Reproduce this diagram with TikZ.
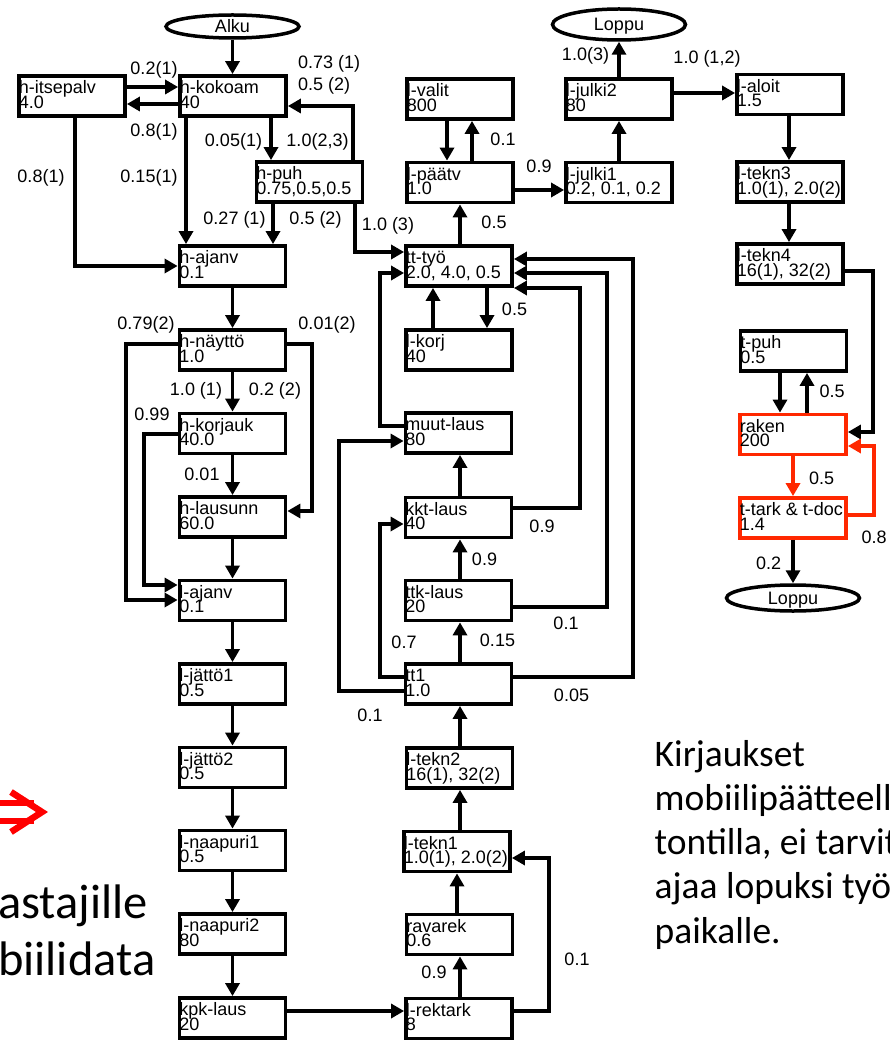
\documentclass[tikz,border=0pt]{standalone}
\usepackage{fontspec}
\setmainfont{Liberation Sans}
\newfontfamily\slidefont{Carlito}
\usetikzlibrary{arrows.meta,shapes.geometric}

\definecolor{flowred}{RGB}{255,40,0}
\definecolor{markred}{RGB}{255,0,0}

% tight two-line text inside the process boxes
\newcommand\diagfont{\fontsize{18}{14.5}\selectfont\lineskiplimit=-30pt\relax}

\tikzset{
  box/.style={draw=black, line width=3.8pt, fill=white, minimum width=106pt,
              minimum height=40pt, inner sep=0pt},
  hotbox/.style={box, draw=flowred},
  boxtext/.style={font=\diagfont, align=left, inner sep=0pt, anchor=north west},
  term/.style={ellipse, draw=black, line width=3.5pt, fill=white, minimum width=133pt,
               inner sep=0pt, font=\diagfont, text height=12.9pt, text depth=0pt},
  arr/.style={line width=3.8pt, -{Triangle[width=14pt,length=13pt]}},
  hotarr/.style={arr, draw=flowred},
  lbl/.style={font=\diagfont, inner sep=0pt, text height=12.9pt, text depth=0pt},
  slide/.style={inner sep=0pt, anchor=base west},
}

% a process box: name, style, x, y, first line, second line
\newcommand\stage[6]{%
  \node[#2] (#1) at (#3,#4) {};
  \node[boxtext] (#1-txt) at ([xshift=1.6pt,yshift=-5.9pt]#1.north west)
       {\rule{0pt}{13.5pt}#5\\#6};
}

\begin{document}
\begin{tikzpicture}[x=1pt,y=-1pt]
\useasboundingbox (0,0) rectangle (890,1040);
\clip (0,0) rectangle (890,1040);

% ---- start and end terminals
\node[term, minimum height=23pt] (start) at (232.5,26.5) {Alku};
\node[term, minimum height=31pt] (endA) at (619,24.5) {Loppu};
\node[term, minimum height=26pt] (endB) at (793,598) {Loppu};

% ---- left column: application phase
\stage{hits}{box}{72}{96}{h-itsepalv}{4.0}
\stage{hkok}{box}{233}{96}{h-kokoam}{40}
\stage{hpuh}{box}{309.5}{182}{h-puh}{0.75,0.5,0.5}
\stage{hajanv}{box}{232.5}{266}{h-ajanv}{0.1}
\stage{hnayt}{box}{232.5}{350}{h-näyttö}{1.0}
\stage{hkorj}{box}{232.5}{433.5}{h-korjauk}{40.0}
\stage{hlaus}{box}{232.5}{517}{h-lausunn}{60.0}
\stage{lajanv}{box}{232.5}{600.5}{l-ajanv}{0.1}
\stage{ljat1}{box}{232.5}{684}{l-jättö1}{0.5}
\stage{ljat2}{box}{232.5}{767.5}{l-jättö2}{0.5}
\stage{lnaa1}{box}{232.5}{850.5}{l-naapuri1}{0.5}
\stage{lnaa2}{box}{232.5}{934}{l-naapuri2}{80}
\stage{kpk}{box}{232.5}{1018}{kpk-laus}{20}

% ---- middle column: permit handling
\stage{valit}{box}{460}{99}{l-valit}{800}
\stage{paatv}{box}{460}{182.5}{l-päätv}{1.0}
\stage{tty}{box}{459}{266}{tt-työ}{2.0, 4.0, 0.5}
\stage{lkorj}{box}{459}{350}{l-korj}{40}
\stage{muut}{box}{458.5}{433}{muut-laus}{80}
\stage{kkt}{box}{458.5}{517.5}{kkt-laus}{40}
\stage{ttk}{box}{458.5}{600.5}{ttk-laus}{20}
\stage{tt1}{box}{458.5}{684}{tt1}{1.0}
\stage{tekn2}{box}{459.5}{768}{l-tekn2}{16(1), 32(2)}
\stage{tekn1}{box}{457}{851.5}{l-tekn1}{1.0(1), 2.0(2)}
\stage{ravarek}{box}{459.5}{934.5}{ravarek}{0.6}
\stage{rektark}{box}{459}{1018.5}{l-rektark}{8}

% ---- right columns: publication and construction
\stage{julki2}{box}{619}{99}{l-julki2}{80}
\stage{julki1}{box}{619}{182.5}{l-julki1}{0.2, 0.1, 0.2}
\stage{aloit}{box}{790}{94.5}{l-aloit}{1.5}
\stage{tekn3}{box}{790}{182}{l-tekn3}{1.0(1), 2.0(2)}
\stage{tekn4}{box}{790}{264}{l-tekn4}{16(1), 32(2)}
\stage{tpuh}{box}{793.5}{351}{t-puh}{0.5}
\stage{raken}{hotbox}{793}{434.5}{raken}{200}
\stage{ttark}{hotbox}{793}{518}{t-tark \& t-doc}{1.4}

% ---- connectors, left column
\draw[arr] (start.south) -- (start.south |- hkok.north);
\draw[arr] (hits.east |- 0,87) -- (hkok.west |- 0,87);
\draw[arr] (hkok.west |- 0,104) -- (hits.east |- 0,104);
\draw[arr] (75,0 |- hits.south) |- (hajanv.west);
\draw[arr] (186,0 |- hkok.south) -- (186,0 |- hajanv.north);
\draw[arr] (271,0 |- hkok.south) -- (271,0 |- hpuh.north);
\draw[arr] (353,0 |- hpuh.north) |- (hkok.east |- 0,106);
\draw[arr] (273,0 |- hpuh.south) -- (273,0 |- hajanv.north);
\draw[arr] (355,0 |- hpuh.south) |- (tty.west |- 0,252);
\draw[arr] (hajanv.south) -- (hnayt.north);
\draw[arr] (hnayt.south) -- (hkorj.north);
\draw[arr] (hkorj.south) -- (hlaus.north);
\draw[arr] (hlaus.south) -- (lajanv.north);
\draw[arr] (lajanv.south) -- (ljat1.north);
\draw[arr] (ljat1.south) -- (ljat2.north);
\draw[arr] (ljat2.south) -- (lnaa1.north);
\draw[arr] (lnaa1.south) -- (lnaa2.north);
\draw[arr] (lnaa2.south) -- (kpk.north);
\draw[arr] (hnayt.west |- 0,344) -| (126,500) |- (lajanv.west |- 0,600);
\draw[arr] (hnayt.east |- 0,344) -| (312,450) |- (hlaus.east |- 0,511);
\draw[arr] (hkorj.west |- 0,434) -| (144,500) |- (lajanv.west |- 0,585);
\draw[arr] (kpk.east |- 0,1011) -- (rektark.west |- 0,1011);

% ---- connectors, middle column
\draw[arr] (muut.west |- 0,426) -| (380,350) |- (tty.west |- 0,273);
\draw[arr] (487,0 |- tty.south) -- (487,0 |- lkorj.north);
\draw[arr] (433,0 |- lkorj.north) -- (433,0 |- tty.south);
\draw[arr] (kkt.east |- 0,508) -| (580,400) |- (tty.east |- 0,288);
\draw[arr] (ttk.east |- 0,607) -| (607,400) |- (tty.east |- 0,273);
\draw[arr] (tt1.east |- 0,677) -| (633,400) |- (tty.east |- 0,259);
\draw[arr] (460,0 |- kkt.north) -- (460,0 |- muut.south);
\draw[arr] (460,0 |- ttk.north) -- (460,0 |- kkt.south);
\draw[arr] (460,0 |- tt1.north) -- (460,0 |- ttk.south);
\draw[arr] (tt1.west |- 0,677) -| (380,600) |- (kkt.west |- 0,524);
\draw[arr] (tt1.west |- 0,691) -| (339,600) |- (muut.west |- 0,441);
\draw[arr] (460,0 |- tekn2.north) -- (460,0 |- tt1.south);
\draw[arr] (460,0 |- tekn1.north) -- (460,0 |- tekn2.south);
\draw[arr] (457,0 |- ravarek.north) -- (457,0 |- tekn1.south);
\draw[arr] (460,0 |- rektark.north) -- (460,0 |- ravarek.south);
\draw[arr] (rektark.east |- 0,1011) -| (549,900) |- (tekn1.east |- 0,858);
\draw[arr] (460,0 |- tty.north) -- (460,0 |- paatv.south);
\draw[arr] (472,0 |- paatv.north) -- (472,0 |- valit.south);
\draw[arr] (447,0 |- valit.south) -- (447,0 |- paatv.north);
\draw[arr] (paatv.east |- 0,190) -- (julki1.west |- 0,190);

% ---- connectors, right columns
\draw[arr] (619,0 |- julki1.north) -- (619,0 |- julki2.south);
\draw[arr] (619,0 |- julki2.north) -- (endA.south);
\draw[arr] (julki2.east |- 0,93) -- (aloit.west |- 0,93);
\draw[arr] (789,0 |- aloit.south) -- (789,0 |- tekn3.north);
\draw[arr] (789,0 |- tekn3.south) -- (789,0 |- tekn4.north);
\draw[arr] (tekn4.east |- 0,271) -| (873,350) |- (raken.east |- 0,432);
\draw[arr] (780,0 |- tpuh.south) -- (780,0 |- raken.north);
\draw[arr] (807,0 |- raken.north) -- (807,0 |- tpuh.south);
\draw[hotarr] (793,0 |- raken.south) -- (793,0 |- ttark.north);
\draw[hotarr] (ttark.east |- 0,515) -| (874,480) |- (raken.east |- 0,446);
\draw[arr] (793,0 |- ttark.south) -- (endB.north);

% ---- transition probabilities
\node[lbl] (p01) at (154,68) {0.2(1)};
\node[lbl] (p02) at (154,130) {0.8(1)};
\node[lbl, anchor=west] (p03) at (298,62) {0.73 (1)};
\node[lbl, anchor=west] (p04) at (298,84) {0.5 (2)};
\node[lbl] (p05) at (233.5,140) {0.05(1)};
\node[lbl] (p06) at (317.5,140) {1.0(2,3)};
\node[lbl] (p07) at (41,176) {0.8(1)};
\node[lbl] (p08) at (149,176) {0.15(1)};
\node[lbl] (p09) at (234.5,218) {0.27 (1)};
\node[lbl] (p10) at (315.5,218) {0.5 (2)};
\node[lbl] (p11) at (388,224) {1.0 (3)};
\node[lbl] (p12) at (585.5,54) {1.0(3)};
\node[lbl] (p13) at (707,57) {1.0 (1,2)};
\node[lbl] (p14) at (503,139) {0.1};
\node[lbl] (p15) at (539,166) {0.9};
\node[lbl] (p16) at (494,222) {0.5};
\node[lbl] (p17) at (146,323) {0.79(2)};
\node[lbl] (p18) at (327,323) {0.01(2)};
\node[lbl] (p19) at (196,389) {1.0 (1)};
\node[lbl] (p20) at (275,389) {0.2 (2)};
\node[lbl] (p21) at (152,414) {0.99};
\node[lbl] (p22) at (202,474) {0.01};
\node[lbl] (p23) at (514.5,309) {0.5};
\node[lbl] (p24) at (542,526) {0.9};
\node[lbl] (p25) at (484.5,559) {0.9};
\node[lbl] (p26) at (566,623) {0.1};
\node[lbl] (p27) at (404,642) {0.7};
\node[lbl] (p28) at (497.5,640) {0.15};
\node[lbl] (p29) at (571.5,695) {0.05};
\node[lbl] (p30) at (370,715) {0.1};
\node[lbl] (p31) at (434,972) {0.9};
\node[lbl] (p32) at (577,959) {0.1};
\node[lbl] (p33) at (832,391) {0.5};
\node[lbl] (p34) at (821.5,478) {0.5};
\node[lbl] (p35) at (874,537) {0.8};
\node[lbl] (p36) at (768.5,563) {0.2};

% ---- slide text around the chart
\draw[markred, line width=6.5pt] (-3,803) -- (34,803) (-3,821) -- (34,821);
\draw[markred, line width=6.5pt] (11,792) -- (42,812) -- (11,832);
\node[slide, font=\slidefont\fontsize{48.5}{57}\selectfont] (sideA) at (-2,918) {astajille};
\node[slide, font=\slidefont\fontsize{48.5}{57}\selectfont] (sideB) at (-2,975) {biilidata};
\node[slide, font=\slidefont\fontsize{37.5}{44.5}\selectfont] (note1) at (654.5,766) {Kirjaukset};
\node[slide, font=\slidefont\fontsize{37.5}{44.5}\selectfont] (note2) at (654.5,810.5) {mobiilipäätteell};
\node[slide, font=\slidefont\fontsize{37.5}{44.5}\selectfont] (note3) at (654.5,854.5) {tontilla, ei tarvit};
\node[slide, font=\slidefont\fontsize{37.5}{44.5}\selectfont] (note4) at (654.5,898.5) {ajaa lopuksi työ};
\node[slide, font=\slidefont\fontsize{37.5}{44.5}\selectfont] (note5) at (654.5,943) {paikalle.};
\end{tikzpicture}
\end{document}
